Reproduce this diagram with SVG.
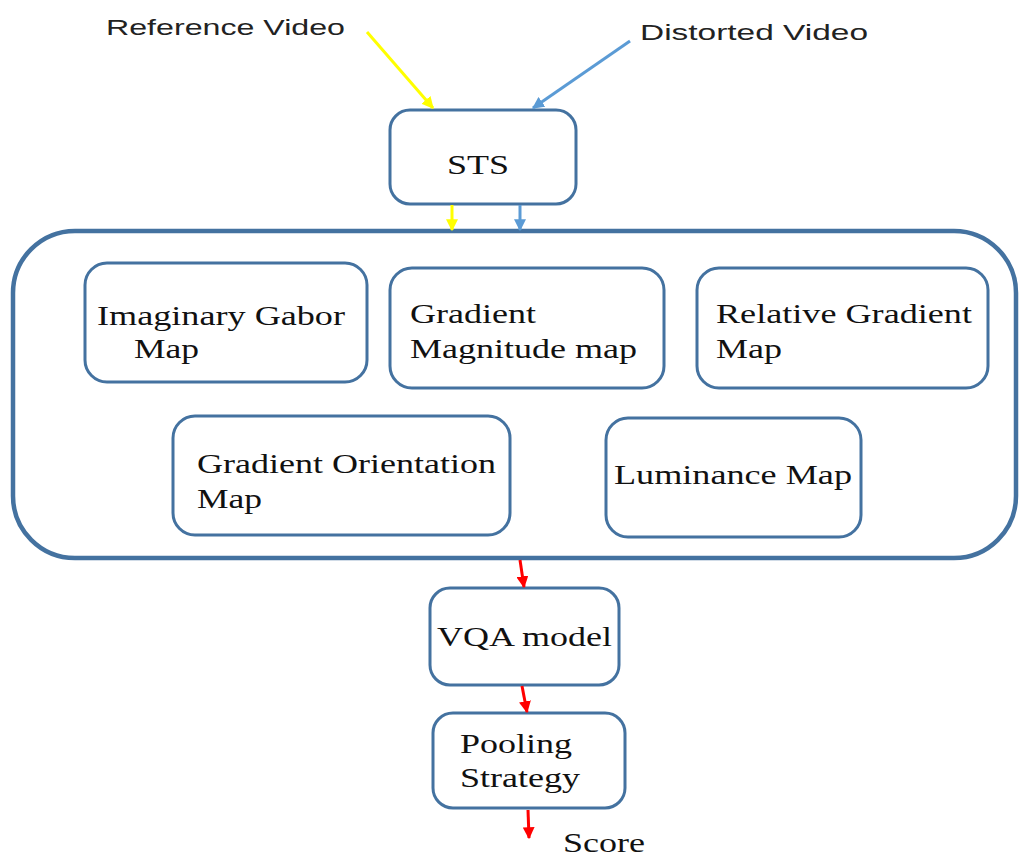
<svg xmlns="http://www.w3.org/2000/svg" width="1019" height="858" viewBox="0 0 1019 858">
<style>
.box{fill:#fff;stroke:#4472a0;stroke-width:3}
.outer{fill:#fff;stroke:#4472a0;stroke-width:4.5}
.t{font-family:"Liberation Serif","Times New Roman",serif;font-size:28px;fill:#111}
.s{font-family:"Liberation Sans",Arial,sans-serif;font-size:22px;fill:#222}
.y{stroke:#ffff00;stroke-width:3;fill:none}
.b{stroke:#5b9bd5;stroke-width:3;fill:none}
.r{stroke:#ff0000;stroke-width:3;fill:none}
</style>
<defs>
<marker id="ay" viewBox="0 0 10 10" refX="9" refY="5" markerWidth="4" markerHeight="4" orient="auto"><path d="M0,0 L10,5 L0,10 z" fill="#ffff00"/></marker>
<marker id="ab" viewBox="0 0 10 10" refX="9" refY="5" markerWidth="4" markerHeight="4" orient="auto"><path d="M0,0 L10,5 L0,10 z" fill="#5b9bd5"/></marker>
<marker id="ar" viewBox="0 0 10 10" refX="9" refY="5" markerWidth="4" markerHeight="4" orient="auto"><path d="M0,0 L10,5 L0,10 z" fill="#ff0000"/></marker>
</defs>
<rect width="1019" height="858" fill="#fff"/>
<g id="container"><rect class="outer" x="13" y="231" width="1003" height="327" rx="62"/></g>
<g id="ref-label"><text class="s" x="106" y="35" textLength="239" lengthAdjust="spacingAndGlyphs">Reference Video</text></g>
<g id="dist-label"><text class="s" x="640" y="40" textLength="228" lengthAdjust="spacingAndGlyphs">Distorted Video</text></g>
<g id="sts"><rect class="box" x="390" y="110" width="186" height="94" rx="20"/><text class="t" x="447" y="174" textLength="62" lengthAdjust="spacingAndGlyphs">STS</text></g>
<g id="gabor"><rect class="box" x="85" y="263" width="282" height="119" rx="22"/><text class="t" x="97" y="325" textLength="248" lengthAdjust="spacingAndGlyphs">Imaginary Gabor</text><text class="t" x="134" y="358" textLength="65" lengthAdjust="spacingAndGlyphs">Map</text></g>
<g id="gradmag"><rect class="box" x="390" y="268" width="274" height="120" rx="22"/><text class="t" x="410" y="323" textLength="126" lengthAdjust="spacingAndGlyphs">Gradient</text><text class="t" x="410" y="358" textLength="227" lengthAdjust="spacingAndGlyphs">Magnitude map</text></g>
<g id="relgrad"><rect class="box" x="697" y="268" width="291" height="120" rx="22"/><text class="t" x="716" y="323" textLength="256" lengthAdjust="spacingAndGlyphs">Relative Gradient</text><text class="t" x="716" y="358" textLength="66" lengthAdjust="spacingAndGlyphs">Map</text></g>
<g id="gradorient"><rect class="box" x="173" y="416" width="337" height="119" rx="22"/><text class="t" x="197" y="473" textLength="299" lengthAdjust="spacingAndGlyphs">Gradient Orientation</text><text class="t" x="197" y="508" textLength="65" lengthAdjust="spacingAndGlyphs">Map</text></g>
<g id="luminance"><rect class="box" x="606" y="418" width="255" height="119" rx="22"/><text class="t" x="614" y="484" textLength="238" lengthAdjust="spacingAndGlyphs">Luminance Map</text></g>
<g id="vqa"><rect class="box" x="430" y="588" width="189" height="97" rx="20"/><text class="t" x="437" y="646" textLength="175" lengthAdjust="spacingAndGlyphs">VQA model</text></g>
<g id="pooling"><rect class="box" x="433" y="713" width="192" height="95" rx="20"/><text class="t" x="460" y="753" textLength="112" lengthAdjust="spacingAndGlyphs">Pooling</text><text class="t" x="460" y="787" textLength="120" lengthAdjust="spacingAndGlyphs">Strategy</text></g>
<g id="score"><text class="t" x="563" y="852" font-size="27" textLength="82" lengthAdjust="spacingAndGlyphs">Score</text></g>
<g id="connectors">
<line class="y" x1="367" y1="32" x2="433" y2="108" marker-end="url(#ay)"/>
<line class="b" x1="630" y1="41" x2="533" y2="108" marker-end="url(#ab)"/>
<line class="y" x1="452" y1="205" x2="452" y2="230" marker-end="url(#ay)"/>
<line class="b" x1="520" y1="205" x2="520" y2="230" marker-end="url(#ab)"/>
<line class="r" x1="520" y1="560" x2="524" y2="587" marker-end="url(#ar)"/>
<line class="r" x1="522" y1="686" x2="527" y2="712" marker-end="url(#ar)"/>
<line class="r" x1="528" y1="810" x2="529" y2="838" marker-end="url(#ar)"/>
</g>
</svg>
